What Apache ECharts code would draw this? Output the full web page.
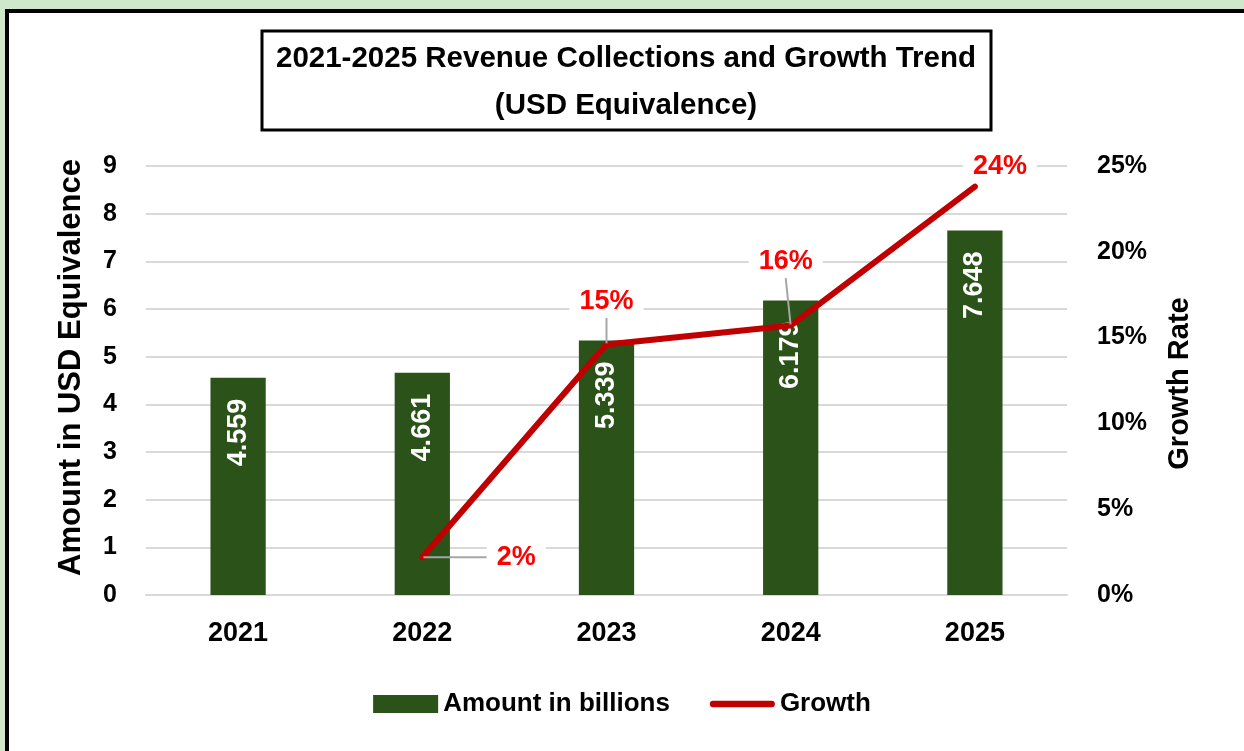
<!DOCTYPE html>
<html>
<head>
<meta charset="utf-8">
<script src="https://cdn.jsdelivr.net/npm/echarts@6/dist/echarts.min.js"></script>
<style>
  html, body { margin: 0; padding: 0; background: #cfe7ca; }
  #chart { width: 1244px; height: 751px; }
</style>
</head>
<body>
<div id="chart"></div>
<script>
// Revenue collections (billions, USD equivalence) and year-on-year growth
const years = ['2021', '2022', '2023', '2024', '2025'];
const amounts = [4.559, 4.661, 5.339, 6.179, 7.648];
const growth = [null, 2.2, 14.6, 15.7, 23.8];          // percent
const amountTicks = [0, 9, 1];                           // min, max, step
const growthTicks = [0, 25, 5];                          // min, max, step (percent)

// offsets of the growth labels from their points, and whether a leader line is drawn
const growthLabelShift = [null, [94, 0], [0, -43], [-5, -64], [25, -20]];
const growthLeader = [false, true, true, true, false];

const FONT = '"Liberation Sans", Arial, sans-serif';
const chart = echarts.init(document.getElementById('chart'));

chart.setOption({
  backgroundColor: '#cfe7ca',
  animation: false,
  textStyle: { fontFamily: FONT },
  title: {
    text: '2021-2025 Revenue Collections and Growth Trend\n(USD Equivalence)',
    left: 621,
    top: 30,
    textAlign: 'center',
    textStyle: {
      fontFamily: FONT, fontSize: 29.5, fontWeight: 'bold', color: '#000', lineHeight: 47
    }
  },
  graphic: [
    {
      type: 'rect', z: -100, silent: true,
      shape: { x: 7, y: 11, width: 1260, height: 770 },
      style: { fill: '#ffffff', stroke: '#000000', lineWidth: 4 }
    },
    {
      type: 'rect', z: -90, silent: true,
      shape: { x: 262, y: 31, width: 729, height: 99 },
      style: { fill: '#ffffff', stroke: '#000000', lineWidth: 3 }
    }
  ],
  legend: {
    top: 686,
    left: 'center',
    itemGap: 40,
    itemWidth: 65,
    itemHeight: 18,
    textStyle: { fontFamily: FONT, fontSize: 26, fontWeight: 'bold', color: '#000' },
    data: [
      { name: 'Amount in billions', icon: 'rect' },
      { name: 'Growth', icon: 'path://M3,0 L57,0 A3,3 0 0 1 57,6 L3,6 A3,3 0 0 1 3,0 Z' }
    ]
  },
  grid: { left: 146, right: 177, top: 166, bottom: 156 },
  xAxis: {
    type: 'category',
    data: years,
    axisTick: { show: false },
    axisLine: { lineStyle: { color: '#d9d9d9', width: 2 } },
    axisLabel: { margin: 25, fontFamily: FONT, fontSize: 27, fontWeight: 'bold', color: '#000' }
  },
  yAxis: [
    {
      type: 'value',
      min: amountTicks[0], max: amountTicks[1], interval: amountTicks[2],
      name: 'Amount in USD Equivalence',
      nameLocation: 'middle',
      nameGap: 59,
      nameRotate: 90,
      nameTextStyle: { fontFamily: FONT, fontSize: 31, fontWeight: 'bold', color: '#000', padding: [0, 0, 0, 26] },
      axisLine: { show: false },
      axisTick: { show: false },
      axisLabel: { margin: 29, fontFamily: FONT, fontSize: 25, fontWeight: 'bold', color: '#000' },
      splitLine: { lineStyle: { color: '#d9d9d9', width: 2 } }
    },
    {
      type: 'value',
      min: growthTicks[0], max: growthTicks[1], interval: growthTicks[2],
      name: 'Growth Rate',
      nameLocation: 'middle',
      nameGap: 98,
      nameRotate: 90,
      nameTextStyle: { fontFamily: FONT, fontSize: 29, fontWeight: 'bold', color: '#000', padding: [0, 6, 0, 0] },
      axisLine: { show: false },
      axisTick: { show: false },
      splitLine: { show: false },
      axisLabel: {
        margin: 30, fontFamily: FONT, fontSize: 25, fontWeight: 'bold', color: '#000',
        formatter: '{value}%'
      }
    }
  ],
  series: [
    {
      name: 'Amount in billions',
      type: 'bar',
      yAxisIndex: 0,
      barWidth: '30%',
      data: amounts,
      itemStyle: { color: '#2a5219' },
      label: {
        show: true,
        position: 'insideTop',
        distance: 21,
        rotate: 90,
        align: 'right',
        verticalAlign: 'middle',
        color: '#ffffff',
        fontFamily: FONT,
        fontSize: 27,
        fontWeight: 'bold',
        formatter: p => p.value.toFixed(3)
      }
    },
    {
      name: 'Growth',
      type: 'line',
      yAxisIndex: 1,
      z: 5,
      symbol: 'circle',
      symbolSize: 2,
      itemStyle: { color: '#c00000' },
      lineStyle: { color: '#c00000', width: 6, cap: 'round', join: 'round' },
      data: growth.map((v, i) => ({
        value: v,
        labelLine: { show: growthLeader[i] }
      })),
      label: {
        show: true,
        position: 'inside',
        color: '#ff0000',
        fontFamily: FONT,
        fontSize: 27,
        fontWeight: 'bold',
        backgroundColor: '#ffffff',
        padding: [3, 10],
        formatter: p => (p.value == null ? '' : Math.round(p.value) + '%')
      },
      labelLine: {
        show: true,
        lineStyle: { color: '#a6a6a6', width: 2 }
      },
      labelLayout: p => {
        const s = growthLabelShift[p.dataIndex];
        return s ? { dx: s[0], dy: s[1] } : {};
      }
    }
  ]
});
</script>
</body>
</html>
